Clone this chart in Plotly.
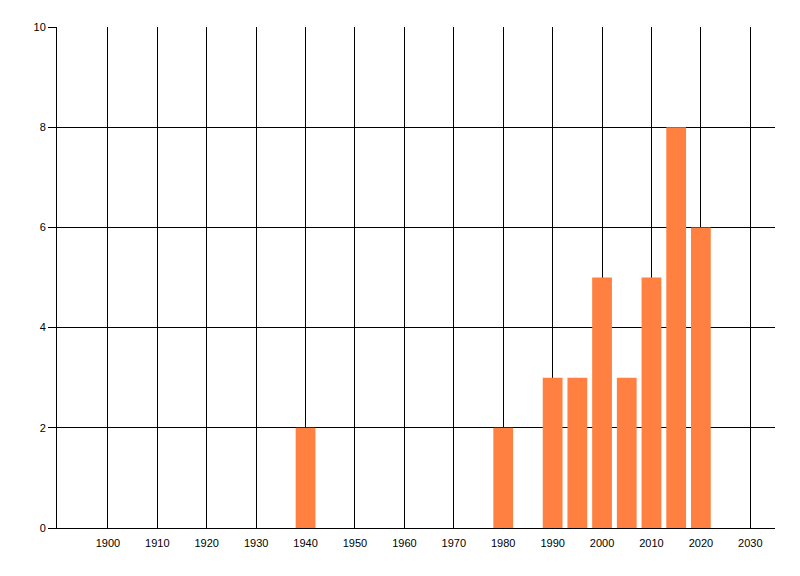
import plotly.graph_objects as go

# Data
years = [1940, 1980, 1990, 1995, 2000, 2005, 2010, 2015, 2020]
counts = [2, 2, 3, 3, 5, 3, 5, 8, 6]
x_ticks = list(range(1900, 2031, 10))
y_ticks = [0, 2, 4, 6, 8, 10]

fig = go.Figure()

fig.add_trace(go.Bar(
    x=years,
    y=counts,
    width=4,
    marker_color='#FF8040',
    marker_line_width=0,
))

# page body has an 8px margin, so the figure is sized and offset for it
fig.update_layout(
    width=792,
    height=568,
    plot_bgcolor='white',
    paper_bgcolor='white',
    showlegend=False,
    margin=dict(l=49, r=25, t=19, b=48),
    font=dict(family='Liberation Sans', size=11, color='black'),
    xaxis=dict(
        range=[1889.7, 2035],
        tickvals=x_ticks,
        showgrid=True,
        gridcolor='black',
        gridwidth=1,
        zeroline=False,
        showline=True,
        linecolor='black',
        linewidth=1,
        ticks='',
        ticklabelstandoff=5,
        fixedrange=True,
    ),
    yaxis=dict(
        range=[0, 10],
        tickvals=y_ticks,
        showgrid=True,
        gridcolor='black',
        gridwidth=1,
        zeroline=False,
        showline=True,
        linecolor='black',
        linewidth=1,
        ticks='outside',
        ticklen=8,
        tickcolor='black',
        fixedrange=True,
    ),
)

fig.write_html("out.html")
